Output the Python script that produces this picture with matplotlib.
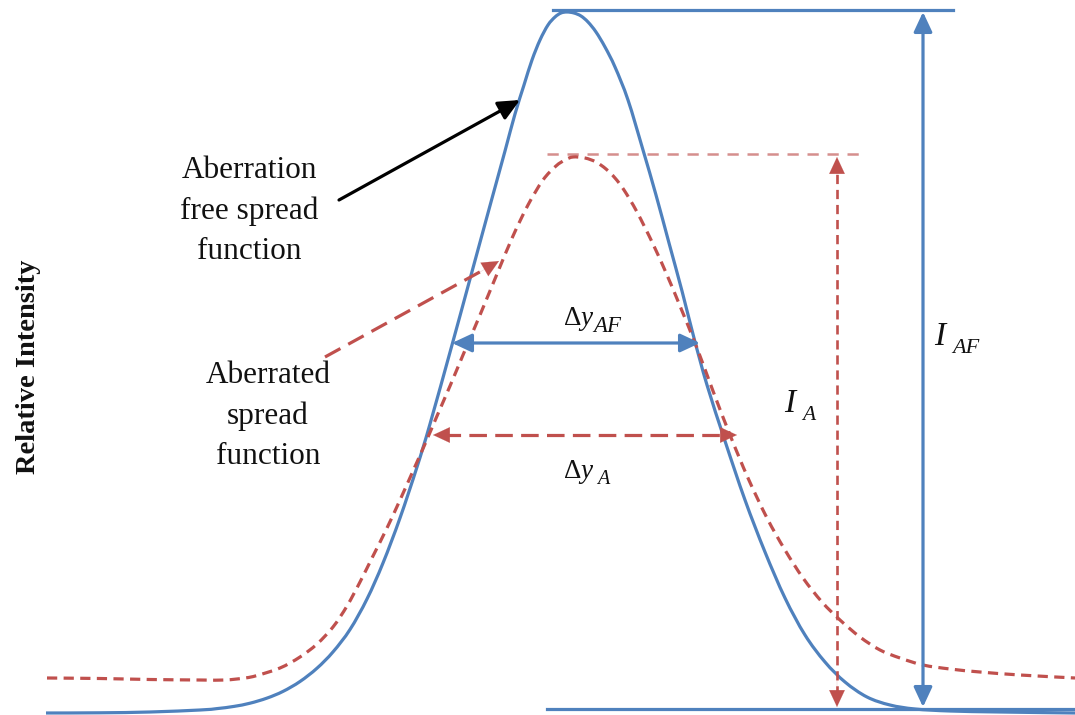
import matplotlib
matplotlib.use("Agg")
import matplotlib.pyplot as plt
from matplotlib.path import Path
from matplotlib.patches import PathPatch

# ---- data (position along the image axis, pixel row) ----
blue_x = [46, 100, 150, 200, 217, 234, 250, 267, 283, 300, 317, 333, 350, 367, 383,
          400, 417, 430, 452, 470, 491, 505, 515, 524, 532, 540, 548, 555, 561, 567,
          574, 581, 588, 596, 605, 615, 628, 643, 656, 669, 682, 694, 707, 725, 745,
          765, 785, 805, 825, 845, 867, 890, 915, 950, 1000, 1075]
blue_py = [713, 712.8, 712, 710, 708.6, 706.4, 703.2, 698.1, 691.4, 681.5, 668.2, 651.9, 629.5, 599, 563,
           518, 467, 424, 345, 279, 202, 151, 114, 85, 60, 40, 25, 17, 13, 12,
           13, 16, 22, 32, 47, 67, 100, 150, 195, 243, 291, 338, 385, 441, 500,
           552, 598, 635, 662, 682, 697, 705, 709, 711, 712, 713]

red_x = [47, 100, 150, 200, 225, 245, 257, 280, 300, 317, 333, 347, 360, 373, 387,
         400, 413, 425, 437, 450, 463, 480, 497, 513, 528, 543, 556, 565, 573, 585,
         596, 606, 615, 624, 637, 653, 667, 680, 697, 713, 730, 748, 767, 785, 803,
         822, 840, 860, 880, 900, 923, 950, 980, 1020, 1075]
red_py = [678, 678.5, 679.5, 680, 680, 678, 675.5, 668, 657, 644, 627, 606, 582, 556, 528,
          500, 471, 444, 416, 386, 355, 315, 274, 236, 205, 180, 166, 160, 157, 158,
          162, 169, 178, 190, 212, 244, 275, 306, 348, 391, 435, 478, 518, 550, 578,
          602, 620, 637, 650, 658, 665, 669, 672, 675, 678]

H = 715
blue_y = [H - v for v in blue_py]
red_y = [H - v for v in red_py]

peak_af = H - 10      # aberration-free peak level
peak_a = H - 154      # aberrated peak level
base = H - 709        # baseline
fwhm_af = (452, 700, H - 343)
fwhm_a = (433, 737, H - 435)
x_iaf = 923
x_ia = 837

BLUE = "#4F81BD"
RED = "#C0504D"
RED_LIGHT = "#D58F8D"
INK = "#111111"

plt.rcParams['mathtext.fontset'] = 'custom'
plt.rcParams['mathtext.rm'] = 'Liberation Serif'
plt.rcParams['mathtext.it'] = 'Liberation Serif:italic'
plt.rcParams['mathtext.bf'] = 'Liberation Serif:bold'

fig = plt.figure(figsize=(10.75, 7.15), dpi=100)
ax = fig.add_axes([0, 0, 1, 1])
ax.set_xlim(0, 1075)
ax.set_ylim(0, 715)
ax.axis('off')


def smooth_path(xs, ys):
    pts = list(zip(xs, ys))
    verts = [pts[0]]
    codes = [Path.MOVETO]
    n = len(pts)
    for i in range(n - 1):
        p0 = pts[i - 1] if i > 0 else pts[i]
        p1 = pts[i]
        p2 = pts[i + 1]
        p3 = pts[i + 2] if i + 2 < n else pts[i + 1]
        c1 = (p1[0] + (p2[0] - p0[0]) / 6.0, p1[1] + (p2[1] - p0[1]) / 6.0)
        c2 = (p2[0] - (p3[0] - p1[0]) / 6.0, p2[1] - (p3[1] - p1[1]) / 6.0)
        verts += [c1, c2, p2]
        codes += [Path.CURVE4] * 3
    return Path(verts, codes)


# curves
ax.add_patch(PathPatch(smooth_path(blue_x, blue_y), fill=False, edgecolor=BLUE,
                       lw=2.3, zorder=3))
ax.add_patch(PathPatch(smooth_path(red_x, red_y), fill=False, edgecolor=RED,
                       lw=2.3, linestyle=(0, (3.2, 2.0)), zorder=3))

# reference lines
ax.plot([553, 953], [peak_af, peak_af], color=BLUE, lw=2.3, zorder=2)
ax.plot([547, 1075], [base, base], color=BLUE, lw=2.3, zorder=2)
ax.plot([547, 866], [peak_a, peak_a], color=RED_LIGHT, lw=1.8, dashes=(4.5, 3.5), zorder=2)


def head(x0, y0, x1, y1, color):
    ax.annotate('', xy=(x1, y1), xytext=(x0, y0),
                arrowprops=dict(arrowstyle='-|>,head_length=0.6,head_width=0.28',
                                color=color, lw=0.1, mutation_scale=20,
                                shrinkA=0, shrinkB=0), zorder=4)


def solid_double(x0, y0, x1, y1, color):
    ax.annotate('', xy=(x1, y1), xytext=(x0, y0),
                arrowprops=dict(arrowstyle='<|-|>,head_length=0.6,head_width=0.28',
                                color=color, lw=2.3, mutation_scale=20,
                                shrinkA=0, shrinkB=0), zorder=4)


# I_AF arrow
solid_double(x_iaf, base + 2, x_iaf, peak_af - 2, BLUE)
# delta y_AF arrow
solid_double(fwhm_af[0], fwhm_af[2], fwhm_af[1], fwhm_af[2], BLUE)

# I_A dashed arrow
ax.plot([x_ia, x_ia], [base + 14, peak_a - 14], color=RED, lw=1.9, dashes=(3.5, 2.2), zorder=3)
head(x_ia, base + 30, x_ia, base + 2, RED)
head(x_ia, peak_a - 30, x_ia, peak_a - 3, RED)

# delta y_A dashed arrow
ax.plot([fwhm_a[0] + 10, fwhm_a[1] - 10], [fwhm_a[2], fwhm_a[2]], color=RED, lw=2.3,
        dashes=(5.5, 2.6), zorder=3)
head(fwhm_a[0] + 25, fwhm_a[2], fwhm_a[0], fwhm_a[2], RED)
head(fwhm_a[1] - 25, fwhm_a[2], fwhm_a[1], fwhm_a[2], RED)

# pointer arrows
ax.annotate('', xy=(520, H - 100), xytext=(339, H - 200),
            arrowprops=dict(arrowstyle='-|>,head_length=0.65,head_width=0.3',
                            color='black', lw=2.3, mutation_scale=20,
                            shrinkA=0, shrinkB=0), zorder=4)
ax.plot([325, 487], [H - 357, H - 268], color=RED, lw=2.3, dashes=(5.5, 2.8), zorder=3)
head(480, H - 272, 499, H - 261, RED)

# texts
serif = 'Liberation Serif'
ax.text(249, H - 211, 'Aberration\nfree spread\nfunction', ha='center', va='center',
        fontsize=22.5, family=serif, linespacing=1.52, color=INK)
ax.text(268, H - 416, 'Aberrated\nspread\nfunction', ha='center', va='center',
        fontsize=22.5, family=serif, linespacing=1.52, color=INK)
ax.text(29, H - 367, 'Relative Intensity', rotation=90, ha='center', va='center',
        fontsize=20.5, family=serif, fontweight='bold', color=INK)


def label(x, y, main, sub, fmain, fsub, sx, sy, main_math=False):
    if main_math:
        ax.text(x, H - y, main, ha='left', va='baseline', fontsize=fmain, color=INK)
    else:
        ax.text(x, H - y, main, ha='left', va='baseline', fontsize=fmain, color=INK,
                family=serif, style='italic')
    ax.text(sx, H - sy, sub, ha='left', va='baseline', fontsize=fsub, color=INK,
            family=serif, style='italic')


label(563, 325, r'$\Delta y$', 'AF', 19.5, 16.5, 593, 332, main_math=True)
label(563, 478, r'$\Delta y$', 'A', 19.5, 14.5, 597, 484, main_math=True)
label(784, 412, 'I', 'A', 24, 15.5, 802, 420)
label(934, 345, 'I', 'AF', 24, 16, 952, 353)

fig.savefig('out.png', dpi=100)
